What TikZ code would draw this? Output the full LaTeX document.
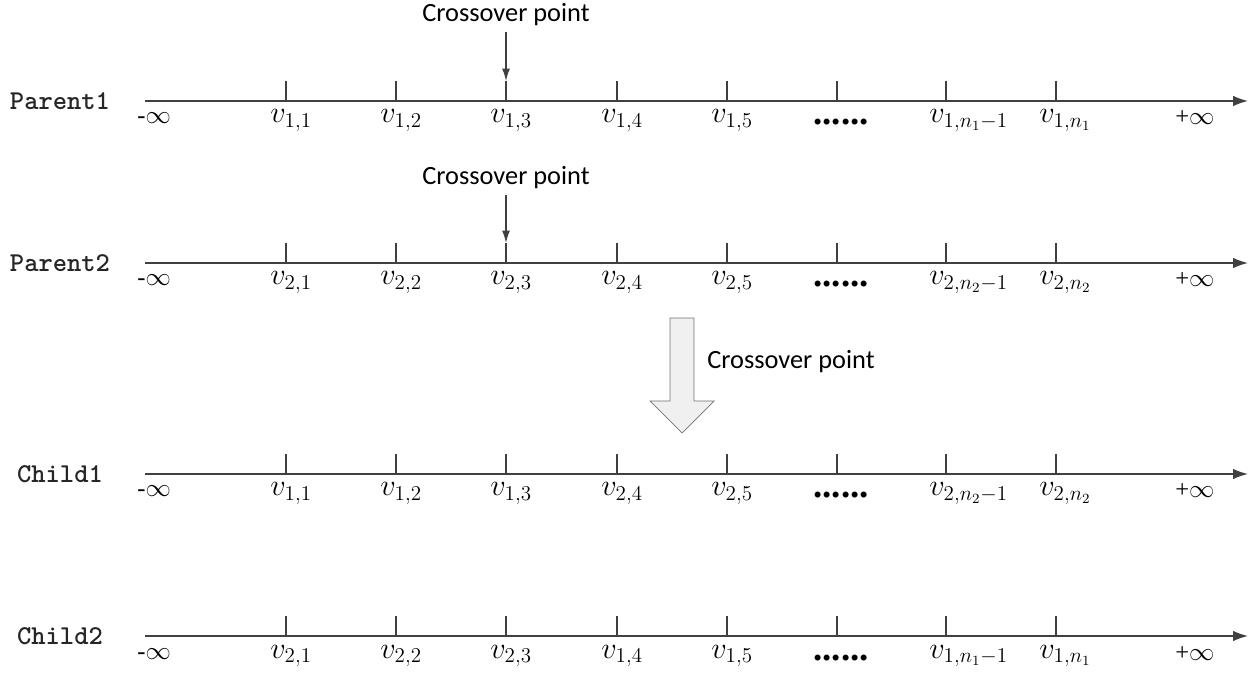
\documentclass[tikz,border=0pt]{standalone}
\usepackage{fontspec}
\usepackage{amsmath,amssymb}
\usetikzlibrary{arrows.meta}
\setmainfont{Liberation Serif}
\newfontfamily\notefont{Carlito}

\tikzset{
  axisline/.style={-{Latex[length=8.5pt,width=6pt]},line width=0.9pt,black!75},
  tickline/.style={thick,black!75},
  rowname/.style={font=\ttfamily\bfseries\fontsize{15.5}{17}\selectfont,text=black!85,anchor=center},
  vlabel/.style={font=\fontsize{16.5}{18}\selectfont,text=black,anchor=base west,inner sep=0pt},
  inflabel/.style={font=\fontsize{14}{16}\selectfont,text=black,anchor=base west,inner sep=0pt},
  dotslabel/.style={font=\fontsize{21}{21}\selectfont\bfseries,text=black,anchor=base west,inner sep=0pt},
  notelabel/.style={font=\notefont\fontsize{15}{17}\selectfont,text=black},
  cutarrow/.style={-{Latex[length=7pt,width=4.5pt]},thick,black!75},
}

\begin{document}
\begin{tikzpicture}[x=0.02cm,y=-0.02cm]
\useasboundingbox (0,0) rectangle (1257,678);

% row Parent1:
\path (60,101) node[rowname] (p1name) {Parent1};
\coordinate (p1start) at (145,101);
\coordinate (p1end) at (1248,101);
\draw[axisline] (p1start) -- (p1end);
\draw[tickline] (286,81) -- (286,101) (396,81) -- (396,101) (506,81) coordinate (p1cut) -- (506,101)
  (617,81) -- (617,101) (727,81) -- (727,101) (837,81) -- (837,101) (946,81) -- (946,101) (1056,81) -- (1056,101);
\path (137,124) node[inflabel] (p1minf) {-$\infty$};
\path (270,123) node[vlabel] (p1v1) {$v_{1,1}$};
\path (380,123) node[vlabel] (p1v2) {$v_{1,2}$};
\path (490,123) node[vlabel] (p1v3) {$v_{1,3}$};
\path (601,123) node[vlabel] (p1v4) {$v_{1,4}$};
\path (711,123) node[vlabel] (p1v5) {$v_{1,5}$};
\path (813,125) node[dotslabel] (p1dots) {......};
\path (929,123) node[vlabel] (p1vm) {$v_{1,n_1-1}$};
\path (1039,123) node[vlabel] (p1vn) {$v_{1,n_1}$};
\path (1175,125) node[inflabel] (p1pinf) {+$\infty$};
\path (506,15) node[notelabel] (note1) {Crossover point};
\draw[cutarrow] (note1) -- (p1cut);

% row Parent2:
\path (60,263) node[rowname] (p2name) {Parent2};
\coordinate (p2start) at (145,263);
\coordinate (p2end) at (1248,263);
\draw[axisline] (p2start) -- (p2end);
\draw[tickline] (286,243) -- (286,263) (396,243) -- (396,263) (506,243) coordinate (p2cut) -- (506,263)
  (617,243) -- (617,263) (727,243) -- (727,263) (837,243) -- (837,263) (946,243) -- (946,263) (1056,243) -- (1056,263);
\path (137,286) node[inflabel] (p2minf) {-$\infty$};
\path (270,285) node[vlabel] (p2v1) {$v_{2,1}$};
\path (380,285) node[vlabel] (p2v2) {$v_{2,2}$};
\path (490,285) node[vlabel] (p2v3) {$v_{2,3}$};
\path (601,285) node[vlabel] (p2v4) {$v_{2,4}$};
\path (711,285) node[vlabel] (p2v5) {$v_{2,5}$};
\path (813,287) node[dotslabel] (p2dots) {......};
\path (929,285) node[vlabel] (p2vm) {$v_{2,n_2-1}$};
\path (1039,285) node[vlabel] (p2vn) {$v_{2,n_2}$};
\path (1175,287) node[inflabel] (p2pinf) {+$\infty$};
\path (506,178) node[notelabel] (note2) {Crossover point};
\draw[cutarrow] (note2) -- (p2cut);

% big arrow:
\draw[black!55,fill=black!6] (670,318) -- (694,318) -- (694,401) -- (714,401) -- (682,433)
  -- (650,401) -- (670,401) -- cycle;
\path (707,362) node[notelabel,anchor=west,inner sep=0pt] (note3) {Crossover point};

% row Child1:
\path (60,474) node[rowname] (c1name) {Child1};
\coordinate (c1start) at (145,474);
\coordinate (c1end) at (1248,474);
\draw[axisline] (c1start) -- (c1end);
\draw[tickline] (286,454) -- (286,474) (396,454) -- (396,474) (506,454) -- (506,474)
  (617,454) -- (617,474) (727,454) -- (727,474) (837,454) -- (837,474) (946,454) -- (946,474) (1056,454) -- (1056,474);
\path (137,497) node[inflabel] (c1minf) {-$\infty$};
\path (270,496) node[vlabel] (c1v1) {$v_{1,1}$};
\path (380,496) node[vlabel] (c1v2) {$v_{1,2}$};
\path (490,496) node[vlabel] (c1v3) {$v_{1,3}$};
\path (601,496) node[vlabel] (c1v4) {$v_{2,4}$};
\path (711,496) node[vlabel] (c1v5) {$v_{2,5}$};
\path (813,498) node[dotslabel] (c1dots) {......};
\path (929,496) node[vlabel] (c1vm) {$v_{2,n_2-1}$};
\path (1039,496) node[vlabel] (c1vn) {$v_{2,n_2}$};
\path (1175,498) node[inflabel] (c1pinf) {+$\infty$};

% row Child2:
\path (60,636) node[rowname] (c2name) {Child2};
\coordinate (c2start) at (145,636);
\coordinate (c2end) at (1248,636);
\draw[axisline] (c2start) -- (c2end);
\draw[tickline] (286,616) -- (286,636) (396,616) -- (396,636) (506,616) -- (506,636)
  (617,616) -- (617,636) (727,616) -- (727,636) (837,616) -- (837,636) (946,616) -- (946,636) (1056,616) -- (1056,636);
\path (137,659) node[inflabel] (c2minf) {-$\infty$};
\path (270,658) node[vlabel] (c2v1) {$v_{2,1}$};
\path (380,658) node[vlabel] (c2v2) {$v_{2,2}$};
\path (490,658) node[vlabel] (c2v3) {$v_{2,3}$};
\path (601,658) node[vlabel] (c2v4) {$v_{1,4}$};
\path (711,658) node[vlabel] (c2v5) {$v_{1,5}$};
\path (813,660) node[dotslabel] (c2dots) {......};
\path (929,658) node[vlabel] (c2vm) {$v_{1,n_1-1}$};
\path (1039,658) node[vlabel] (c2vn) {$v_{1,n_1}$};
\path (1175,660) node[inflabel] (c2pinf) {+$\infty$};

\end{tikzpicture}
\end{document}
